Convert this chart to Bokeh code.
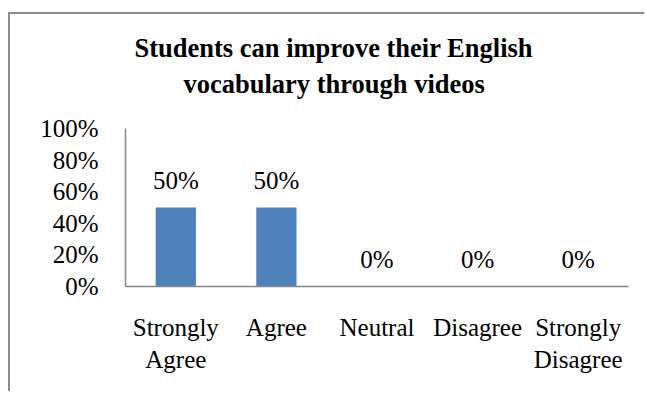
from bokeh.plotting import figure
from bokeh.models import (ColumnDataSource, FactorRange, Range1d, FixedTicker,
                          NumeralTickFormatter, Title)
from bokeh.core.properties import value
from bokeh.embed import file_html
from bokeh.resources import INLINE

categories = ["Strongly\nAgree", "Agree", "Neutral", "Disagree", "Strongly\nDisagree"]
values = [0.50, 0.50, 0.0, 0.0, 0.0]
value_labels = ["50%", "50%", "0%", "0%", "0%"]
y_ticks = [0, 0.2, 0.4, 0.6, 0.8, 1.0]
title_lines = ["Students can improve their English", "vocabulary through videos"]

FONT = "Liberation Serif"

source = ColumnDataSource(data=dict(cat=categories, val=values, lab=value_labels))

p = figure(
    x_range=FactorRange(*categories, range_padding=0),
    y_range=Range1d(0, 1),
    width=636, height=379,
    output_backend="svg", toolbar_location=None,
    min_border_left=115, min_border_right=18,
    min_border_top=114, min_border_bottom=107,
)
p.margin = (14, 0, 0, 10)
p.styles = {"box-shadow": "-2px -2px 0 0 #8c8c8c"}

p.outline_line_color = None
p.xgrid.grid_line_color = None
p.ygrid.grid_line_color = None

p.vbar(x="cat", top="val", width=0.4, source=source, color="#4F81BD", line_color=None)

p.text(x="cat", y="val", text="lab", source=source,
       text_font=value(FONT), text_font_size="25px",
       text_align="center", text_baseline="alphabetic",
       y_offset=-27, text_color="black")

# axes
p.yaxis.ticker = FixedTicker(ticks=y_ticks)
p.yaxis.formatter = NumeralTickFormatter(format="0%")
for ax in (p.xaxis[0], p.yaxis[0]):
    ax.axis_line_color = "#868686"
    ax.axis_line_width = 1.5
    ax.major_tick_line_color = None
    ax.minor_tick_line_color = None
    ax.major_tick_out = 0
    ax.major_tick_in = 0
    ax.major_label_text_font = FONT
    ax.major_label_text_font_size = "25px"
    ax.major_label_text_color = "black"
p.yaxis.major_label_standoff = 27
p.xaxis.major_label_standoff = 27

# gap between the plot frame and the two-line title
p.add_layout(Title(text=" ", text_font=FONT, text_font_size="10px", standoff=13), "above")

# title (two lines), closest-to-frame added first
offsets = [9, 58]
standoffs = [0, 8]
for i in (1, 0):
    p.add_layout(Title(
        text=title_lines[i], align="left", offset=offsets[i], standoff=standoffs[i],
        text_font=FONT, text_font_size="26.5px", text_font_style="bold",
        text_color="black",
    ), "above")

open("out.html", "w").write(file_html(p, INLINE))
